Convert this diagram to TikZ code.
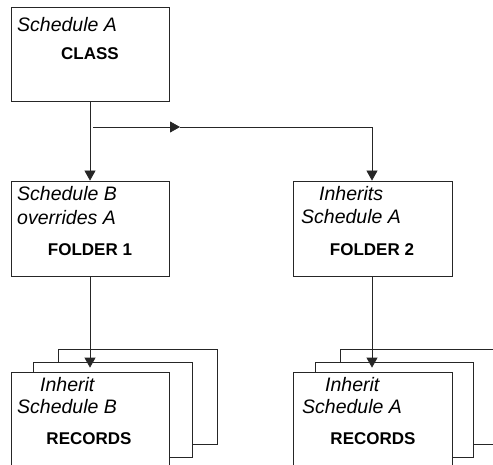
\documentclass[tikz,border=0pt]{standalone}
\usepackage{fontspec}
\setmainfont{Liberation Sans}
\usetikzlibrary{arrows.meta}
\begin{document}
\begin{tikzpicture}[x=1pt,y=-1pt,
  box/.style={draw=black!85,line width=0.8pt,fill=white,rectangle,inner sep=0pt,minimum width=158pt,minimum height=95pt},
  ital/.style={anchor=base west,inner sep=0pt,font=\fontsize{19.5}{24}\selectfont\itshape},
  bold/.style={anchor=base,inner sep=0pt,font=\fontsize{17}{20}\selectfont\bfseries},
  conn/.style={draw=black!85,line width=0.8pt},
  tip/.style={-{Triangle[width=11pt,length=10pt]}}]
\useasboundingbox (0,0) rectangle (493,465);
\clip (0,0) rectangle (493,465);
% boxes
\node[box,minimum height=94pt] (class) at (90,54) {};
\node[box] (f1) at (90,228.5) {};
\node[box,minimum width=159pt] (f2) at (372.5,228.5) {};
% record stacks left
\node[box,minimum width=159pt] (r1back) at (137.5,396.5) {};
\node[box,minimum width=159pt] (r1mid) at (112.5,409.5) {};
\node[box] (r1) at (90,419.5) {};
% record stacks right
\node[box] (r2back) at (419,396.5) {};
\node[box] (r2mid) at (394,409.5) {};
\node[box,minimum width=159pt] (r2) at (372.5,419.5) {};
% texts
\node[ital] (t1) at (17,32) {Schedule A};
\node[bold] (t2) at (90,60) {CLASS};
\node[ital] (t3) at (17,201) {Schedule B};
\node[ital] (t4) at (17,225) {overrides A};
\node[bold] (t5) at (90,256) {FOLDER 1};
\node[ital] (t6) at (319,201) {Inherits};
\node[ital] (t7) at (301,224) {Schedule A};
\node[bold] (t8) at (372,256) {FOLDER 2};
\node[ital] (t9) at (40,391) {Inherit};
\node[ital] (t10) at (17,413) {Schedule B};
\node[bold] (t11) at (89,444) {RECORDS};
\node[ital] (t12) at (325,391) {Inherit};
\node[ital] (t13) at (302,413) {Schedule A};
\node[bold] (t14) at (373,444) {RECORDS};
% connectors
\coordinate (branch) at (93,127);
\coordinate (mid) at (180,127);
\coordinate (corner) at (372,127);
\draw[conn,tip] (class.south) -- (f1.north);
\draw[conn,tip] (branch) -- (mid);
\draw[conn,tip] (mid) -- (corner) -- (corner |- f2.north);
\draw[conn,tip,shorten >=4pt] (f1.south) -- (r1.north);
\draw[conn,tip,shorten >=4pt] (f2.south -| corner) -- (corner |- r2.north);
\end{tikzpicture}
\end{document}
